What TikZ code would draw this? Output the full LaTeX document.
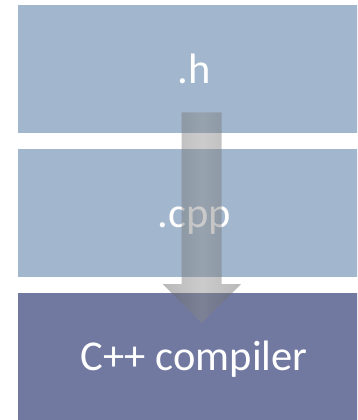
\documentclass[tikz,border=0pt]{standalone}
\usepackage{fontspec}
\setmainfont{Carlito}
\usetikzlibrary{calc}
\definecolor{paleblue}{HTML}{A2B6CD}
\definecolor{slateblue}{HTML}{7179A0}
\definecolor{flowedge}{RGB}{98,98,98}
\definecolor{flowmid}{RGB}{140,140,140}
\begin{document}
\begin{tikzpicture}[x=1pt,y=-1pt,
  layer/.style={minimum width=352pt, minimum height=127.5pt, inner sep=0pt,
    anchor=north west, text=white, font=\fontsize{42.5}{50}\selectfont,
    text height=29pt, text depth=0pt},
  flow/.style={left color=flowedge, right color=flowedge, middle color=flowmid,
    fill opacity=0.45, draw=none},
]
\useasboundingbox (0,0) rectangle (357,420);
\clip (0,0) rectangle (357,420);

% three stacked layers
\node[layer, fill=paleblue]  (hdr)      at (18,5)     {.h};
\node[layer, fill=paleblue]  (src)      at (18,149)   {.cpp};
\node[layer, fill=slateblue] (compiler) at (18,292.5) {C++ compiler};

% block arrow running from the header down into the compiler
\coordinate (tail) at ([xshift=7.5pt,yshift=20.5pt]hdr.south);
\coordinate (tip)  at ([xshift=7.5pt,yshift=-30.5pt]compiler.north);
\shade[flow] ($(tail)+(-20,0)$) -- ($(tail)+(20,0)$) -- ($(tip)+(20,-39)$)
  -- ($(tip)+(39.5,-39)$) -- (tip) -- ($(tip)+(-39,-39)$)
  -- ($(tip)+(-20,-39)$) -- cycle;
\end{tikzpicture}
\end{document}
